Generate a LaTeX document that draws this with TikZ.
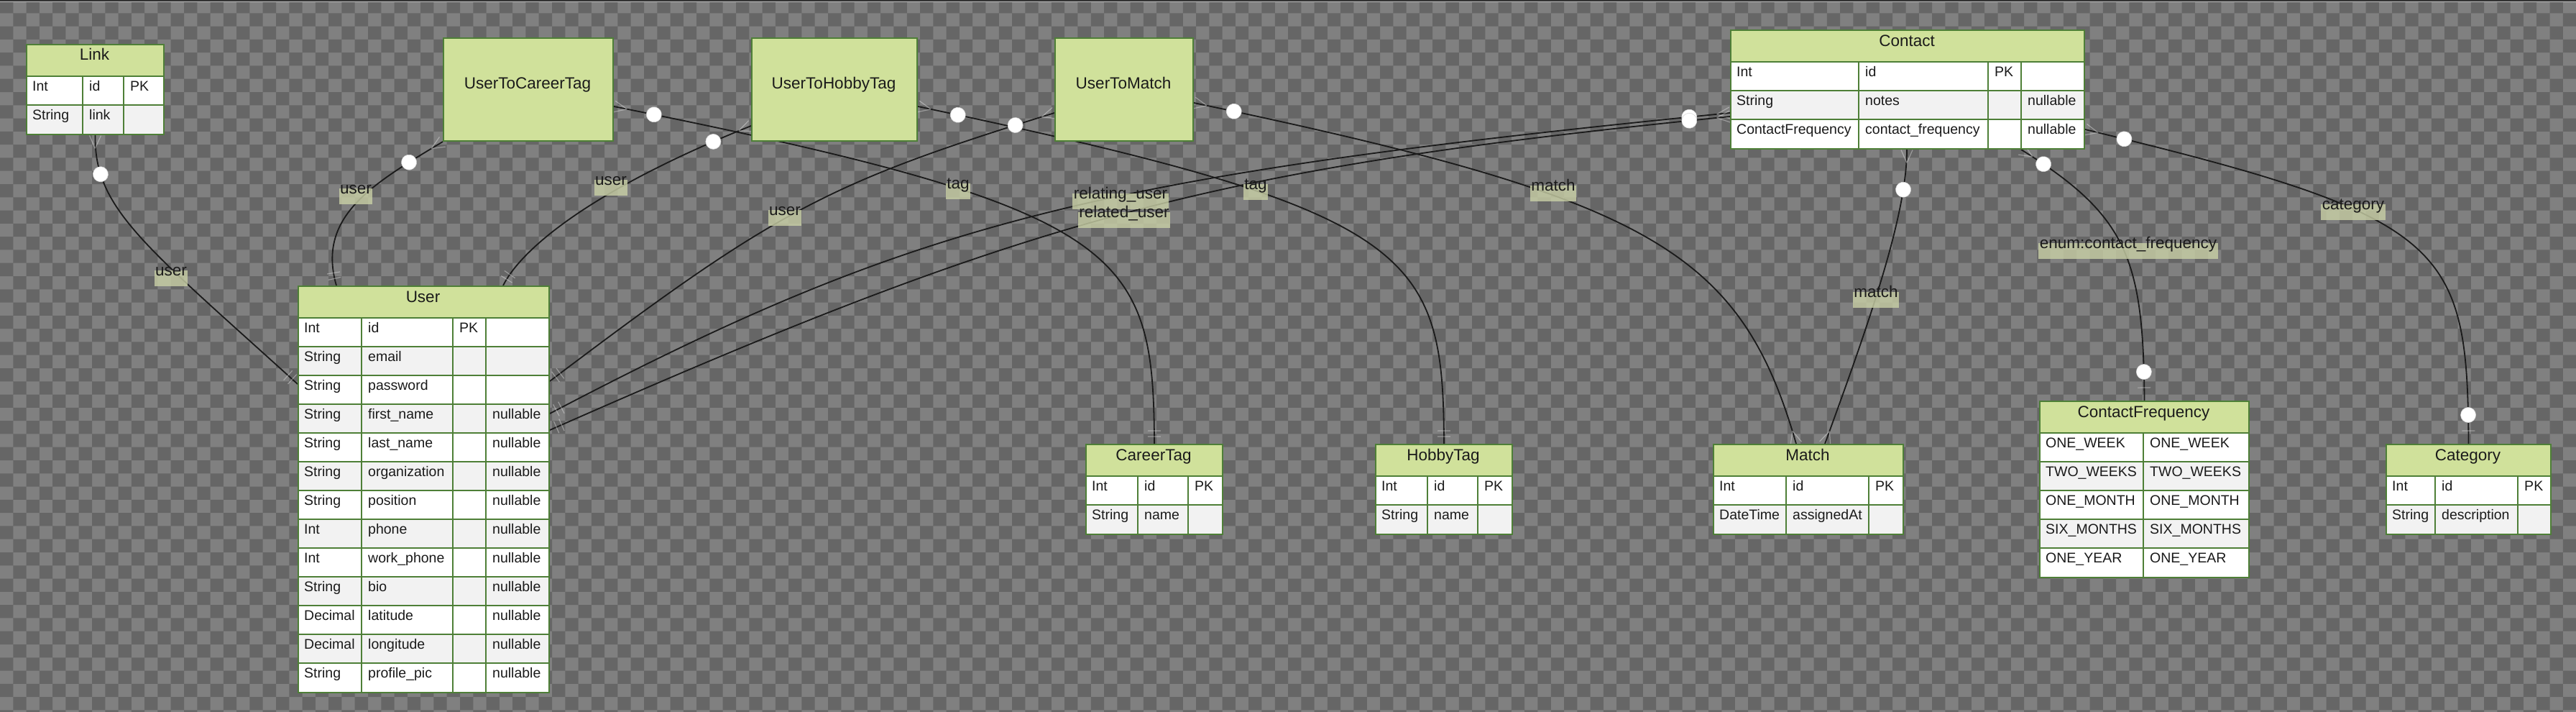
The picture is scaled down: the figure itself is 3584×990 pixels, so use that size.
\documentclass[tikz,border=0pt]{standalone}
\usepackage{fontspec}
\setmainfont{Liberation Sans}
\usetikzlibrary{calc,decorations.markings}
\pgfdeclarelayer{bg}
\pgfdeclarelayer{edges}
\pgfdeclarelayer{lbls}
\pgfsetlayers{bg,edges,lbls,main}
\definecolor{chkdark}{HTML}{666666}
\definecolor{chklight}{HTML}{808080}
\definecolor{hdr}{HTML}{D0E19B}
\definecolor{bord}{HTML}{4E7F37}
\definecolor{rowgray}{HTML}{F2F2F2}
\definecolor{lblfill}{HTML}{C9D0A6}
\definecolor{ink}{HTML}{1A1A1A}
\tikzset{
  tframe/.style={draw=bord,line width=2pt,inner sep=0pt},
  grid/.style={draw=bord,line width=1.6pt},
  jbox/.style={draw=bord,fill=hdr,line width=2pt,inner sep=0pt,anchor=north west},
  cell/.style={font=\fontsize{19.5}{23}\selectfont,text=ink,anchor=base west,inner sep=0pt},
  ttl/.style={font=\fontsize{22.5}{27}\selectfont,text=ink,anchor=base,inner sep=0pt},
  conn/.style={draw=ink,line width=1.8pt},
  faint/.style={draw=white,draw opacity=0.35,line width=1.2pt},
  dotc/.style={fill=white,draw=black!15,line width=0.6pt},
  elbl/.style={font=\fontsize{22.5}{27}\selectfont,text=ink,fill=lblfill,fill opacity=0.8,text opacity=1,
    inner xsep=1.5pt,inner ysep=0pt,text height=8pt,text depth=14pt,anchor=base,yshift=-5.7pt},
  crowS/.style={postaction={decorate,decoration={markings,mark=at position 0.5pt with {\draw[faint] (18pt,0pt) -- (0pt,8pt) (18pt,0pt) -- (0pt,-8pt);}}}},
  crowE/.style={postaction={decorate,decoration={markings,mark=at position -0.5pt with {\draw[faint] (-18pt,0pt) -- (0pt,8pt) (-18pt,0pt) -- (0pt,-8pt);}}}},
  barsE/.style={postaction={decorate,decoration={markings,mark=at position -10pt with {\draw[faint] (0pt,-9pt) -- (0pt,9pt);},mark=at position -18pt with {\draw[faint] (0pt,-9pt) -- (0pt,9pt);}}}},
  barE/.style={postaction={decorate,decoration={markings,mark=at position -18pt with {\draw[faint] (0pt,-9pt) -- (0pt,9pt);}}}},
  circS/.style={postaction={decorate,decoration={markings,mark=at position #1 with {\path[dotc] (0pt,0pt) circle (10.5pt);}}}},
  circE/.style={postaction={decorate,decoration={markings,mark=at position -#1 with {\path[dotc] (0pt,0pt) circle (10.5pt);}}}},
}
% #1 name, #2 title, #3 left x, #4 right x, #5 top y, #6 number of rows
\newcommand\tblframe[6]{%
  \fill[hdr] (#3,#5) rectangle (#4,{#5+45});
  \fill[white] (#3,{#5+45}) rectangle (#4,{#5+45+40*#6});
  \foreach \k in {1,...,#6}{\ifodd\k\else\fill[rowgray] (#3,{#5+5+40*\k}) rectangle (#4,{#5+45+40*\k});\fi}
  \foreach \k in {1,...,#6}{\draw[grid] (#3,{#5+5+40*\k}) -- (#4,{#5+5+40*\k});}
  \node[tframe,anchor=north west,minimum width={#4-#3},minimum height={45+40*#6}] (#1) at (#3,#5) {};
  \node[ttl] at ({(#3+#4)/2},{#5+23}) {#2};
}
\newcommand\tblcols[3]{\foreach \cx in {#1}{\draw[grid] (\cx,#2) -- (\cx,#3);}}
\begin{document}
\begin{tikzpicture}[x=1pt,y=-1pt]
\useasboundingbox (0,0) rectangle (3584,990);
\begin{pgfonlayer}{bg}
\fill[chklight] (0,0) rectangle (3584,990);
\fill[chkdark] \foreach \j in {0,2,...,54}{\foreach \i in {0,2,...,194}{({\i*18.286},{\j*18.286}) rectangle ++(18.286,18.286)}}
  \foreach \j in {1,3,...,53}{\foreach \i in {1,3,...,195}{({\i*18.286},{\j*18.286}) rectangle ++(18.286,18.286)}};
\fill[black!80] (0,0) rectangle (3584,2);
\fill[white!75!black] (0,2) rectangle (3584,3.5);
\end{pgfonlayer}

% ---------- tables ----------
% Link
\tblframe{Link}{Link}{36}{227}{61}{2}
\tblcols{115,172}{106}{186}
\foreach \a/\b/\c [count=\k from 0] in {Int/id/PK, String/link/}{
  \path ({36+9},{126.5+40*\k}) node[cell]{\a} ({115+9},{126.5+40*\k}) node[cell]{\b} ({172+9},{126.5+40*\k}) node[cell]{\c};}
% User
\tblframe{User}{User}{414}{763}{397}{13}
\tblcols{503,630,676}{442}{962}
\foreach \a/\b/\c/\d [count=\k from 0] in {Int/id/PK/, String/email//, String/password//, String/first\_name//nullable,
  String/last\_name//nullable, String/organization//nullable, String/position//nullable, Int/phone//nullable,
  Int/work\_phone//nullable, String/bio//nullable, Decimal/latitude//nullable, Decimal/longitude//nullable, String/profile\_pic//nullable}{
  \path ({414+9},{462.5+40*\k}) node[cell]{\a} ({503+9},{462.5+40*\k}) node[cell]{\b}
        ({630+9},{462.5+40*\k}) node[cell]{\c} ({676+9},{462.5+40*\k}) node[cell]{\d};}
% Contact
\tblframe{Contact}{Contact}{2407}{2899}{41}{3}
\tblcols{2586,2766,2812}{86}{206}
\foreach \a/\b/\c/\d [count=\k from 0] in {Int/id/PK/, String/notes//nullable, ContactFrequency/contact\_frequency//nullable}{
  \path ({2407+9},{106.5+40*\k}) node[cell]{\a} ({2586+9},{106.5+40*\k}) node[cell]{\b}
        ({2766+9},{106.5+40*\k}) node[cell]{\c} ({2812+9},{106.5+40*\k}) node[cell]{\d};}
% CareerTag
\tblframe{CareerTag}{CareerTag}{1510}{1700}{617}{2}
\tblcols{1583,1653}{662}{742}
\foreach \a/\b/\c [count=\k from 0] in {Int/id/PK, String/name/}{
  \path ({1510+9},{682.5+40*\k}) node[cell]{\a} ({1583+9},{682.5+40*\k}) node[cell]{\b} ({1653+9},{682.5+40*\k}) node[cell]{\c};}
% HobbyTag
\tblframe{HobbyTag}{HobbyTag}{1913}{2103}{617}{2}
\tblcols{1986,2056}{662}{742}
\foreach \a/\b/\c [count=\k from 0] in {Int/id/PK, String/name/}{
  \path ({1913+9},{682.5+40*\k}) node[cell]{\a} ({1986+9},{682.5+40*\k}) node[cell]{\b} ({2056+9},{682.5+40*\k}) node[cell]{\c};}
% Match
\tblframe{Match}{Match}{2383}{2647}{617}{2}
\tblcols{2485,2600}{662}{742}
\foreach \a/\b/\c [count=\k from 0] in {Int/id/PK, DateTime/assignedAt/}{
  \path ({2383+9},{682.5+40*\k}) node[cell]{\a} ({2485+9},{682.5+40*\k}) node[cell]{\b} ({2600+9},{682.5+40*\k}) node[cell]{\c};}
% ContactFrequency
\tblframe{CF}{ContactFrequency}{2837}{3128}{557}{5}
\tblcols{2982}{602}{802}
\foreach \a [count=\k from 0] in {ONE\_WEEK, TWO\_WEEKS, ONE\_MONTH, SIX\_MONTHS, ONE\_YEAR}{
  \path ({2837+9},{622.5+40*\k}) node[cell]{\a} ({2982+9},{622.5+40*\k}) node[cell]{\a};}
% Category
\tblframe{Category}{Category}{3319}{3548}{617}{2}
\tblcols{3388,3503}{662}{742}
\foreach \a/\b/\c [count=\k from 0] in {Int/id/PK, String/description/}{
  \path ({3319+9},{682.5+40*\k}) node[cell]{\a} ({3388+9},{682.5+40*\k}) node[cell]{\b} ({3503+9},{682.5+40*\k}) node[cell]{\c};}
% join tables
\node[jbox,minimum width=236,minimum height=143] (UTC) at (616,52) {};
\node[ttl] at (734,123) {UserToCareerTag};
\node[jbox,minimum width=230,minimum height=143] (UTH) at (1045,52) {};
\node[ttl] at (1160,123) {UserToHobbyTag};
\node[jbox,minimum width=192,minimum height=143] (UTM) at (1467,52) {};
\node[ttl] at (1563,123) {UserToMatch};

% ---------- connectors ----------
\begin{pgfonlayer}{edges}
\draw[conn,crowS,circS=57pt,barsE] ($(UTC.north east)+(0,96)$) .. controls (1567,291) and (1605,347) .. (CareerTag.north);
\draw[conn,crowS,circS=57pt,barsE] ($(UTH.north east)+(0,96)$) .. controls (1971,294) and (2008,349) .. (HobbyTag.north);
\draw[conn,crowS,circS=57pt,crowE] ($(UTM.north east)+(0,91)$) .. controls (2295,276) and (2421,347) .. ($(Match.north west)+(116,0)$);
\draw[conn,crowS,circS=56pt,crowE] ($(Contact.south west)+(246,0)$) .. controls (2653,300) and (2600,450) .. ($(Match.north west)+(156,0)$);
\draw[conn,crowS,circS=37pt,barE,circE=40pt] ($(Contact.south west)+(405,0)$) .. controls (2960,300) and (2982,360) .. (CF.north);
\draw[conn,crowS,circS=56pt,barE,circE=40pt] ($(Contact.north east)+(0,139)$) .. controls (3406,302) and (3433,339) .. (Category.north);
\draw[conn,crowS,circS=55pt,barsE] (Link.south) .. controls (131,290) and (200,340) .. ($(User.north west)+(0,137)$);
\draw[conn,crowS,circS=55pt,barsE] (UTC.south west) .. controls (520,255) and (440,300) .. ($(User.north west)+(54,0)$);
\draw[conn,crowS,circS=57pt,barsE] ($(UTH.south west)+(0,-22)$) .. controls (825,263) and (726,345) .. ($(User.north west)+(286,0)$);
\draw[conn,crowS,circS=57pt,barsE] ($(UTM.north west)+(0,105)$) .. controls (1150,255) and (1080,292) .. ($(User.north east)+(0,133)$);
\draw[conn,crowS,circS=57pt,barsE] ($(Contact.north west)+(0,116)$) .. controls (1522,245) and (1276,307) .. ($(User.north east)+(0,178)$);
\draw[conn,crowS,circS=57pt,barsE] ($(Contact.north west)+(0,121)$) .. controls (1689,234) and (1442,299) .. ($(User.north east)+(0,201)$);
\end{pgfonlayer}

% ---------- connector labels ----------
\begin{pgfonlayer}{lbls}
\node[elbl] (lb1) at (238,378) {user};
\node[elbl] (lb2) at (495,264) {user};
\node[elbl] (lb3) at (850,252) {user};
\node[elbl] (lb4) at (1092,294) {user};
\node[elbl] (lb5) at (1333,257) {tag};
\node[elbl] (lb6) at (1747,258) {tag};
\node[elbl] (lb7) at (1559,271) {relating\_user};
\node[elbl] (lb8) at (1564,297) {related\_user};
\node[elbl] (lb9) at (2161,260) {match};
\node[elbl] (lb10) at (2610,408) {match};
\node[elbl] (lb11) at (2961,340) {enum:contact\_frequency};
\node[elbl] (lb12) at (3274,286) {category};
\end{pgfonlayer}
\end{tikzpicture}
\end{document}
